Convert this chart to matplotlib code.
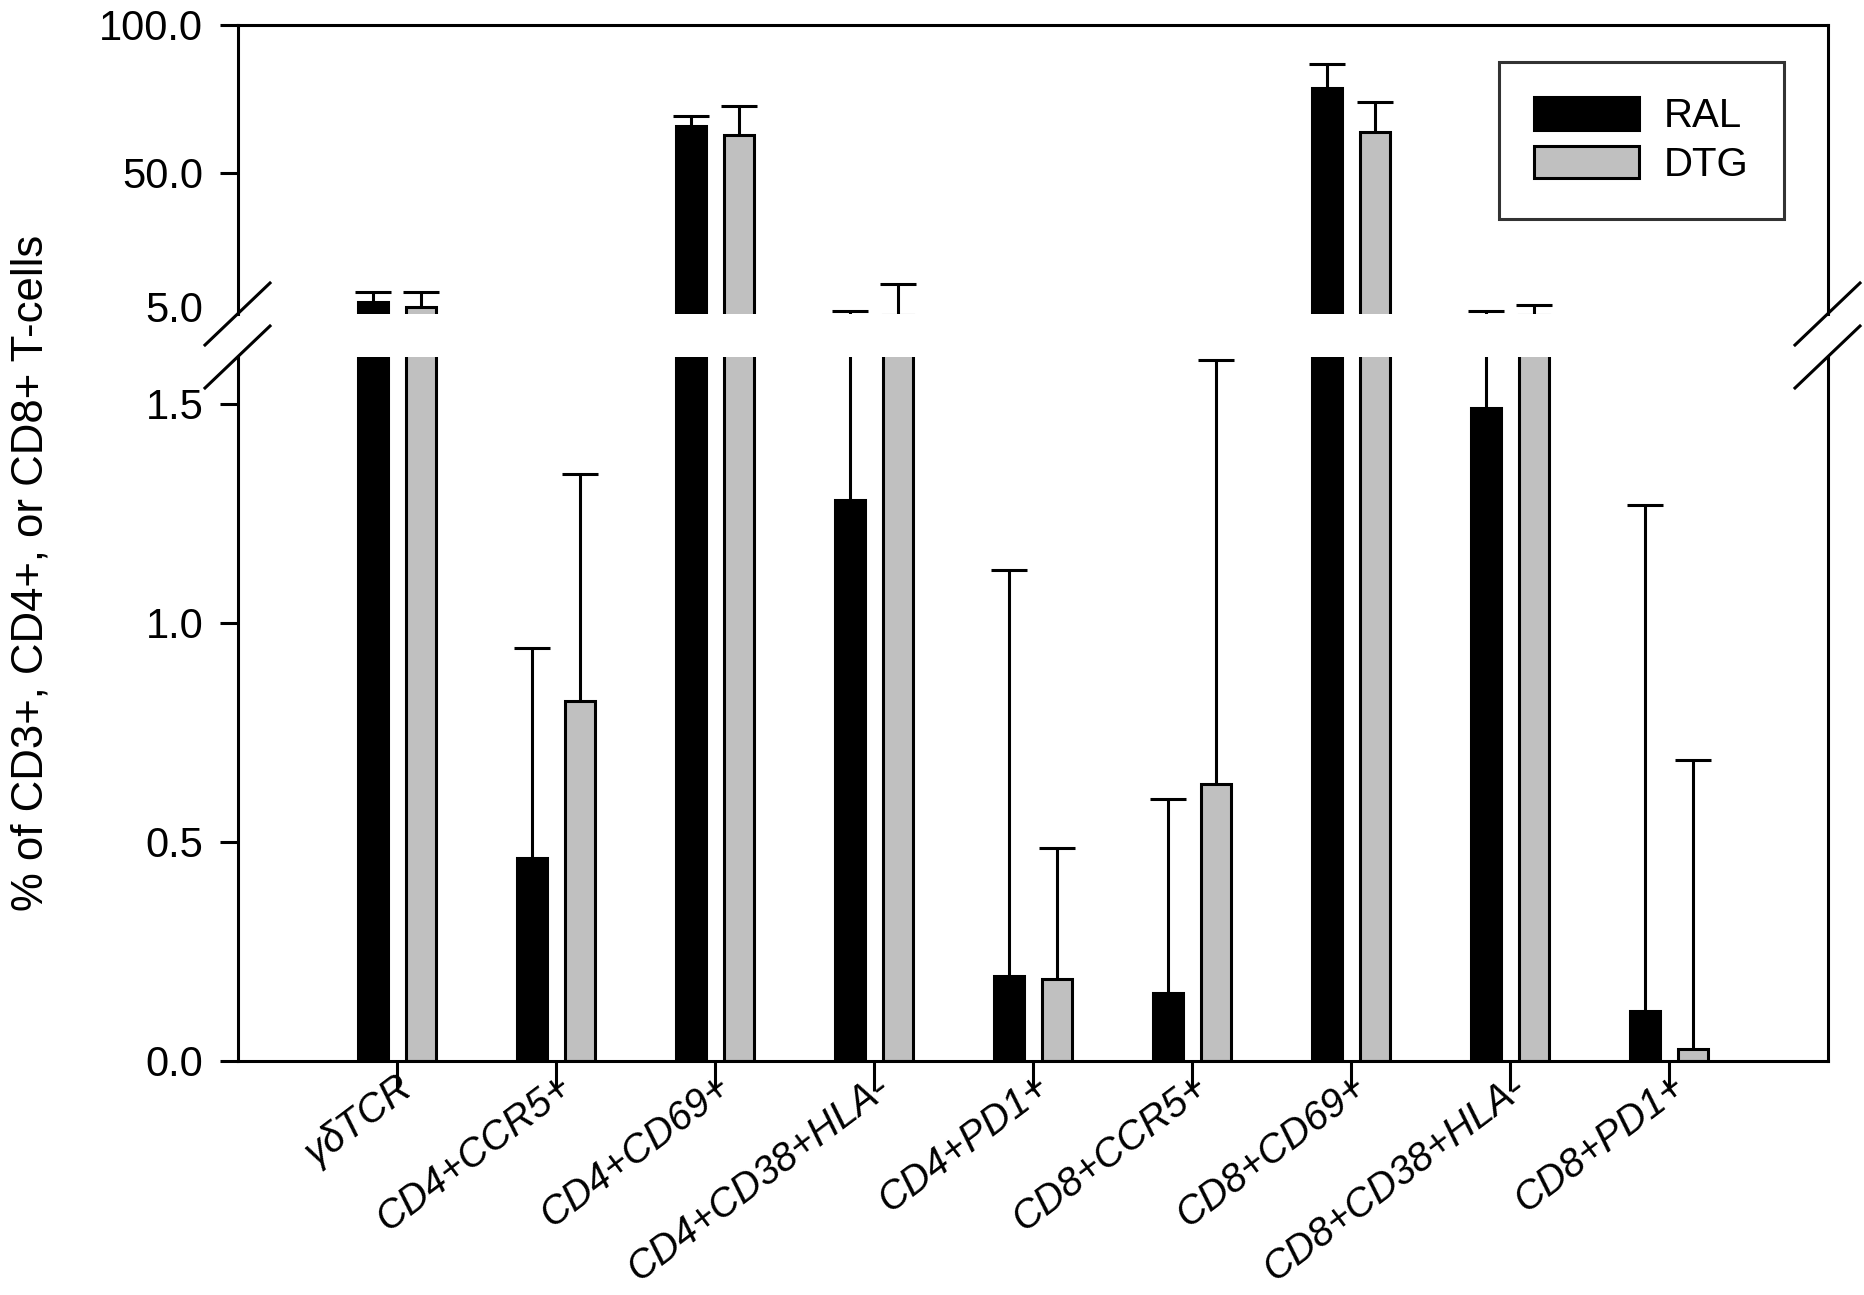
import numpy as np
import matplotlib
matplotlib.use("Agg")
import matplotlib.pyplot as plt
from matplotlib.lines import Line2D
from matplotlib.patches import Patch

plt.rcParams["font.family"] = ["Liberation Sans", "DejaVu Sans"]

# data (RAL = black, DTG = grey)
categories = ["γδTCR", "CD4+CCR5+", "CD4+CD69+", "CD4+CD38+HLA-", "CD4+PD1+",
              "CD8+CCR5+", "CD8+CD69+", "CD8+CD38+HLA-", "CD8+PD1+"]
ral_mean = [6.5, 0.463, 65.9, 1.28, 0.195, 0.156, 78.8, 1.49, 0.114]
ral_upper = [9.9, 0.943, 69.1, 3.4, 1.12, 0.598, 86.7, 3.4, 1.27]
dtg_mean = [4.8, 0.821, 63.0, 2.0, 0.187, 0.633, 64.0, 2.0, 0.027]
dtg_upper = [9.9, 1.339, 72.7, 12.5, 0.487, 1.60, 73.9, 5.4, 0.687]

low_ticks = [0.0, 0.5, 1.0, 1.5]
top_ticks = [5.0, 50.0, 100.0]

W, H = 1864, 1295
LW = 2.2
GREY = "#c0c0c0"


def px_axes(left, top, right, bottom):
    return [left / W, 1 - bottom / H, (right - left) / W, (bottom - top) / H]


fig = plt.figure(figsize=(W / 100, H / 100), dpi=100)
ax_top = fig.add_axes(px_axes(238, 25, 1828, 314))
ax_low = fig.add_axes(px_axes(238, 357, 1828, 1061))

x = np.arange(len(categories))
bw = 0.19
off = 0.15
cap = 0.113

for ax in (ax_top, ax_low):
    ax.bar(x - off, ral_mean, bw, color="black", edgecolor="black", linewidth=LW, zorder=2)
    ax.bar(x + off, dtg_mean, bw, color=GREY, edgecolor="black", linewidth=LW, zorder=2)
    for xs, m, u in ((x - off, ral_mean, ral_upper), (x + off, dtg_mean, dtg_upper)):
        ax.vlines(xs, m, u, color="black", linewidth=LW, zorder=3)
        ax.hlines(u, xs - cap, xs + cap, color="black", linewidth=LW, zorder=3)
    ax.set_xlim(-1, 9)
    for s in ax.spines.values():
        s.set_linewidth(LW)

ax_low.set_ylim(0, 1.607)
ax_top.set_ylim(2.36, 100)

ax_top.spines["bottom"].set_visible(False)
ax_low.spines["top"].set_visible(False)

ax_top.set_xticks([])
ax_top.set_yticks(top_ticks)
ax_top.set_yticklabels([f"{t:.1f}" for t in top_ticks])
ax_top.yaxis.get_major_ticks()[0].tick1line.set_visible(False)

ax_low.set_yticks(low_ticks)
ax_low.set_yticklabels([f"{t:.1f}" for t in low_ticks])
ax_low.set_xticks(x)
ax_low.set_xticklabels(categories, rotation=37, ha="right", va="top",
                       rotation_mode="anchor", fontstyle="italic", fontsize=28.5)

for ax in (ax_top, ax_low):
    ax.tick_params(axis="y", direction="out", length=13, width=LW, labelsize=30, pad=12)
ax_low.tick_params(axis="x", direction="out", length=21.6, width=LW, pad=-17)

# axis break marks
for cx, cy in ((238, 314), (1828, 314), (238, 357), (1828, 357)):
    fig.add_artist(Line2D([(cx - 33) / W, (cx + 32) / W],
                          [1 - (cy + 31) / H, 1 - (cy - 31) / H],
                          color="black", linewidth=LW, transform=fig.transFigure))

fig.text(31 / W, 1 - 573 / H, "% of CD3+, CD4+, or CD8+ T-cells", rotation=90,
         ha="center", va="center", fontsize=31.5)

handles = [Patch(facecolor="black", edgecolor="black", linewidth=LW),
           Patch(facecolor=GREY, edgecolor="black", linewidth=LW)]
leg = ax_top.legend(handles, ["RAL", "DTG"], loc="upper right",
                    bbox_to_anchor=(1784 / W, 1 - 62 / H), bbox_transform=fig.transFigure,
                    borderaxespad=0, fontsize=29, fancybox=False, shadow=False,
                    handlelength=2.6, handleheight=0.85, handletextpad=0.62,
                    labelspacing=0.25, borderpad=0.88)
leg.get_frame().set_edgecolor("black")
leg.get_frame().set_linewidth(LW)
leg.set_zorder(5)

fig.savefig("out.png", dpi=100)
